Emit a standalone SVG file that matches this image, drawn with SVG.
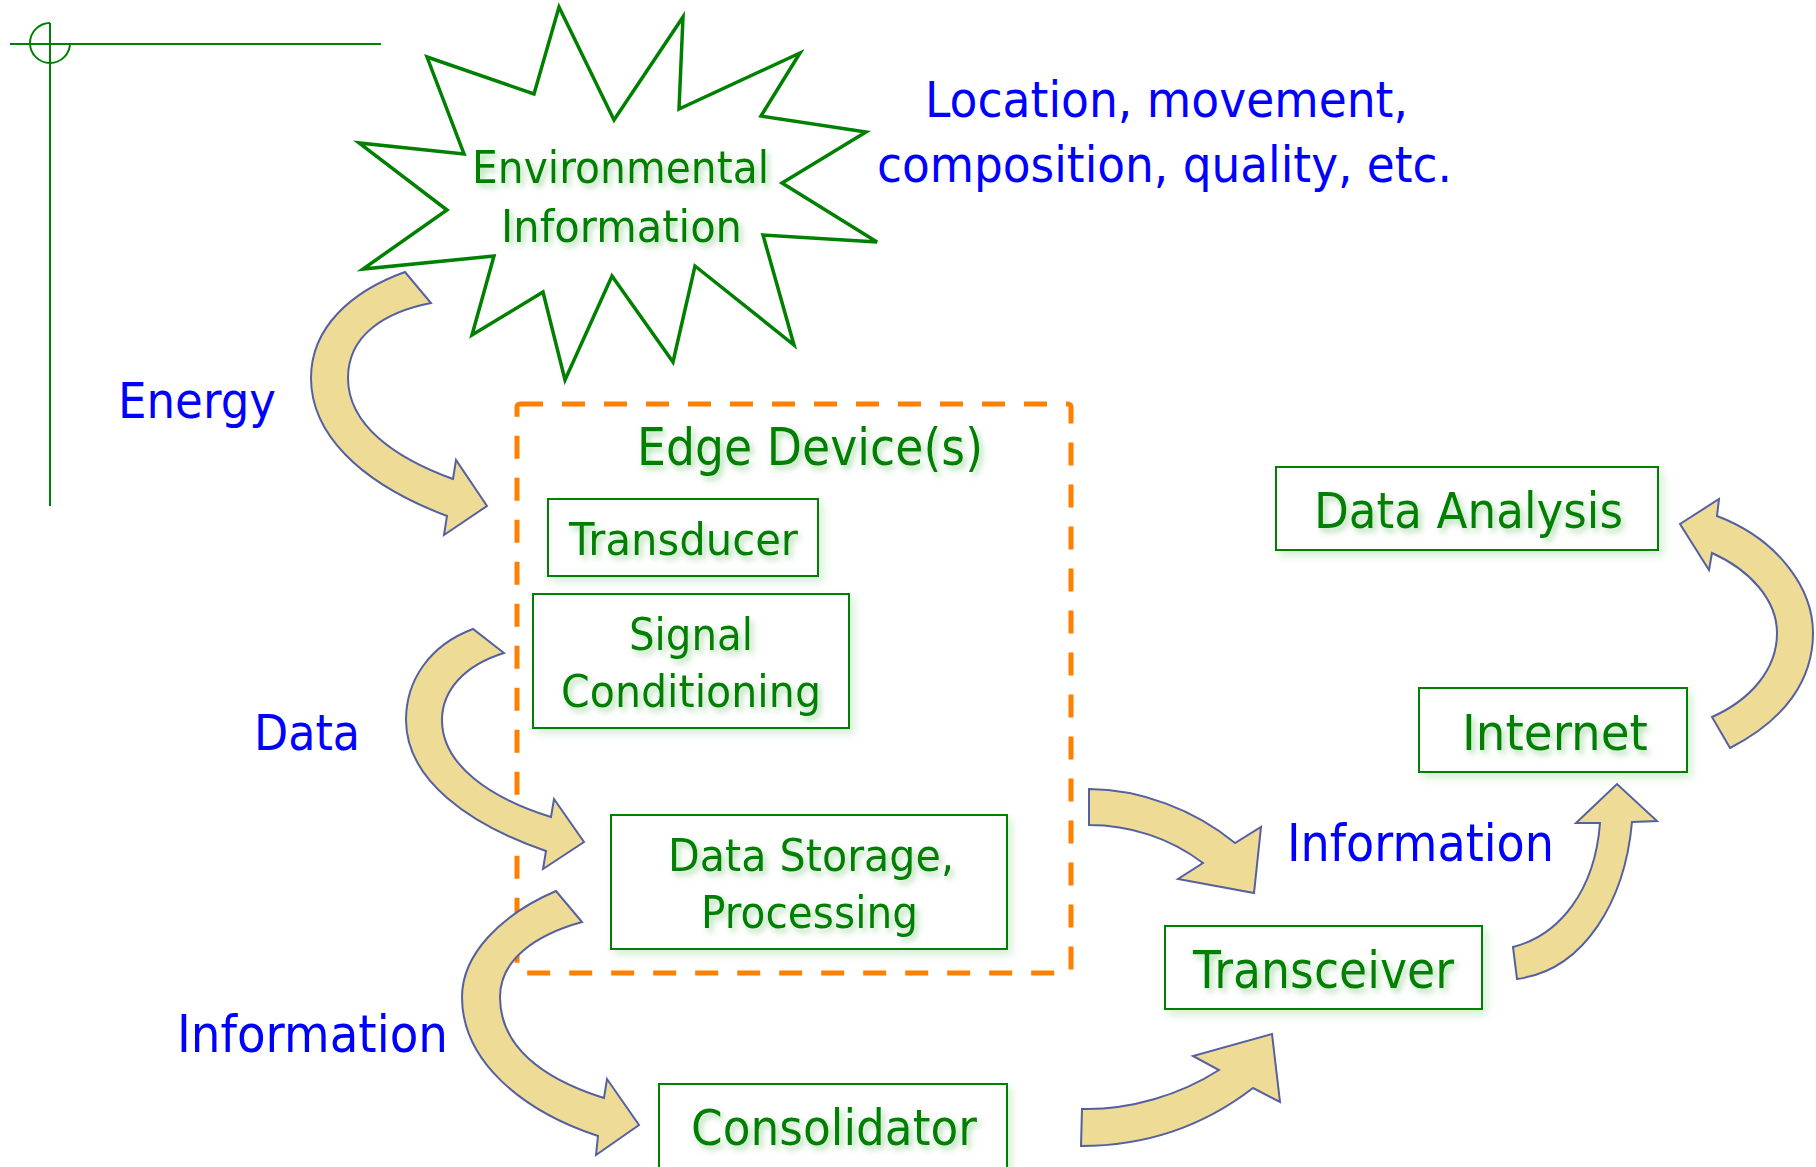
<svg xmlns="http://www.w3.org/2000/svg" width="1816" height="1167" viewBox="0 0 1816 1167">
<defs>
<filter id="glow" x="-10%" y="-30%" width="125%" height="170%">
<feGaussianBlur in="SourceAlpha" stdDeviation="3"/>
<feOffset dx="3" dy="4" result="b"/>
<feFlood flood-color="#8fd08f" flood-opacity="0.75"/>
<feComposite in2="b" operator="in"/>
<feMerge><feMergeNode/><feMergeNode in="SourceGraphic"/></feMerge>
</filter>
<filter id="boxglow" x="-10%" y="-20%" width="125%" height="150%">
<feGaussianBlur in="SourceAlpha" stdDeviation="4"/>
<feOffset dx="4" dy="5" result="b"/>
<feFlood flood-color="#b8e4b8" flood-opacity="0.6"/>
<feComposite in2="b" operator="in"/>
<feMerge><feMergeNode/><feMergeNode in="SourceGraphic"/></feMerge>
</filter>
</defs>
<style>
.g{font-family:"DejaVu Sans","Liberation Sans",sans-serif;fill:#008000;}
.b{font-family:"DejaVu Sans","Liberation Sans",sans-serif;fill:#0000FF;}
.box{fill:#ffffff;stroke:#008000;stroke-width:2;}
.arr{fill:#EEDC96;stroke:#5560A0;stroke-width:2;stroke-linejoin:miter;}
</style>
<rect width="1816" height="1167" fill="#ffffff"/>

<g id="crosshair" fill="none" stroke="#008000" stroke-width="2">
<line x1="10" y1="44" x2="381" y2="44"/>
<line x1="50" y1="23" x2="50" y2="506"/>
<path d="M50 23 A20 20 0 1 0 70 43"/>
</g>

<g id="environmental-information">
<polygon points="559,7 614,120 683,17 679,109 800,53 761,116 866,132 782,183 877,242 763,235 794,345 695,266 673,362 612,276 565,380 543,292 472,335 494,256 363,269 447,210 359,143 464,154 427,57 534,94" fill="#ffffff" stroke="#008000" stroke-width="3.5" stroke-linejoin="miter"/>
<g filter="url(#glow)">
<text class="g" x="472" y="183" font-size="45" textLength="297" lengthAdjust="spacingAndGlyphs">Environmental</text>
<text class="g" x="501" y="242" font-size="45" textLength="241" lengthAdjust="spacingAndGlyphs">Information</text>
</g>
</g>

<g id="note-location">
<text class="b" x="925" y="117" font-size="50" textLength="483" lengthAdjust="spacingAndGlyphs">Location, movement,</text>
<text class="b" x="877" y="182" font-size="50" textLength="575" lengthAdjust="spacingAndGlyphs">composition, quality, etc.</text>
</g>

<g id="edge-devices">
<rect x="517" y="404" width="554" height="569" rx="3" fill="none" stroke="#FF7F00" stroke-width="5" stroke-dasharray="23 19"/>
<text class="g" x="637" y="465" font-size="51" textLength="346" lengthAdjust="spacingAndGlyphs" filter="url(#glow)">Edge Device(s)</text>
</g>

<g id="transducer">
<rect class="box" x="548" y="499" width="270" height="77" filter="url(#boxglow)"/>
<text class="g" x="569" y="555" font-size="45" textLength="229" lengthAdjust="spacingAndGlyphs" filter="url(#glow)">Transducer</text>
</g>

<g id="signal-conditioning">
<rect class="box" x="533" y="594" width="316" height="134" filter="url(#boxglow)"/>
<g filter="url(#glow)">
<text class="g" x="629" y="650" font-size="45" textLength="124" lengthAdjust="spacingAndGlyphs">Signal</text>
<text class="g" x="561" y="707" font-size="45" textLength="260" lengthAdjust="spacingAndGlyphs">Conditioning</text>
</g>
</g>

<g id="data-storage-processing">
<rect class="box" x="611" y="815" width="396" height="134" filter="url(#boxglow)"/>
<g filter="url(#glow)">
<text class="g" x="668" y="871" font-size="45" textLength="286" lengthAdjust="spacingAndGlyphs">Data Storage,</text>
<text class="g" x="701" y="928" font-size="45" textLength="217" lengthAdjust="spacingAndGlyphs">Processing</text>
</g>
</g>

<g id="consolidator">
<rect class="box" x="659" y="1084" width="348" height="90" filter="url(#boxglow)"/>
<text class="g" x="691" y="1145" font-size="50" textLength="286" lengthAdjust="spacingAndGlyphs" filter="url(#glow)">Consolidator</text>
</g>

<g id="transceiver">
<rect class="box" x="1165" y="926" width="317" height="83" filter="url(#boxglow)"/>
<text class="g" x="1193" y="988" font-size="52" textLength="261" lengthAdjust="spacingAndGlyphs" filter="url(#glow)">Transceiver</text>
</g>

<g id="internet">
<rect class="box" x="1419" y="688" width="268" height="84" filter="url(#boxglow)"/>
<text class="g" x="1462" y="750" font-size="50" textLength="186" lengthAdjust="spacingAndGlyphs" filter="url(#glow)">Internet</text>
</g>

<g id="data-analysis">
<rect class="box" x="1276" y="467" width="382" height="83" filter="url(#boxglow)"/>
<text class="g" x="1314" y="528" font-size="49" textLength="309" lengthAdjust="spacingAndGlyphs" filter="url(#glow)">Data Analysis</text>
</g>

<g id="connectors">
<path class="arr" d="M405,272 C352,291 311,327 311,378 C311,432 357,482 447,516 L444,535 L487,506 L456,460 L453,479 C395,458 348,425 348,378 C348,335 385,312 431,303 Z"/>
<path class="arr" d="M473,629 C430,645 406,680 406,720 C406,780 470,825 546,851 L543,869 L584,842 L554,799 L551,817 C490,798 442,765 442,720 C442,690 465,665 504,653 Z"/>
<path class="arr" d="M556,891 C500,915 462,955 462,997 C462,1060 520,1110 598,1136 L596,1155 L639,1125 L607,1079 L604,1098 C540,1078 500,1045 500,997 C500,960 535,935 582,922 Z"/>
<path class="arr" d="M1089,789 C1140,789 1195,810 1235,843 L1261,827 L1254,893 L1178,879 L1203,863 C1170,838 1130,825 1089,825 Z"/>
<path class="arr" d="M1082,1109 C1130,1110 1180,1095 1219,1070 L1193,1056 L1272,1034 L1280,1102 L1253,1088 C1205,1125 1150,1146 1081,1146 Z"/>
<path class="arr" d="M1513,947 C1560,935 1595,890 1600,823 L1576,823 L1617,784 L1657,821 L1632,822 C1625,900 1585,970 1517,979 Z"/>
<path class="arr" d="M1730,748 C1785,720 1813,680 1813,633 C1813,590 1780,540 1717,516 L1719,499 L1680,524 L1709,570 L1712,553 C1750,570 1777,600 1777,633 C1777,670 1750,700 1712,717 Z"/>
</g>

<g id="flow-labels">
<text class="b" x="118" y="418" font-size="50" textLength="158" lengthAdjust="spacingAndGlyphs">Energy</text>
<text class="b" x="254" y="750" font-size="50" textLength="106" lengthAdjust="spacingAndGlyphs">Data</text>
<text class="b" x="177" y="1052" font-size="52" textLength="271" lengthAdjust="spacingAndGlyphs">Information</text>
<text class="b" x="1287" y="861" font-size="52" textLength="267" lengthAdjust="spacingAndGlyphs">Information</text>
</g>
</svg>
